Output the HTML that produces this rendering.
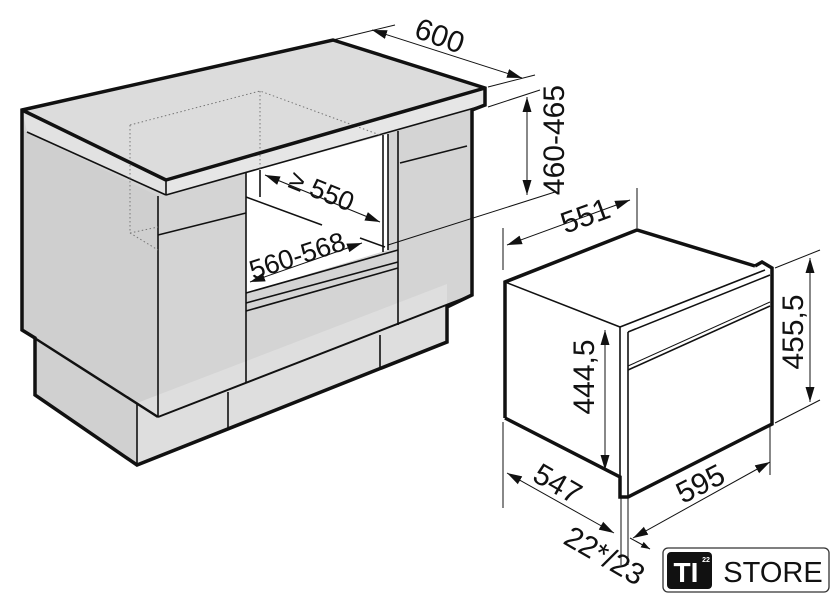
<!DOCTYPE html>
<html><head><meta charset="utf-8"><style>
html,body{margin:0;padding:0;background:#fff;width:840px;height:610px;overflow:hidden}
svg{display:block}
text{font-family:"Liberation Sans",Arial,sans-serif;fill:#111}
</style></head><body>
<svg width="840" height="610" viewBox="0 0 840 610" xmlns="http://www.w3.org/2000/svg">
<defs>
<marker id="a" viewBox="0 0 10 10" refX="10" refY="5" markerWidth="9" markerHeight="9" orient="auto-start-reverse" markerUnits="userSpaceOnUse"><path d="M0,1.5 L10,5 L0,8.5z" fill="#111"/></marker>
<marker id="b" viewBox="0 0 10 10" refX="10" refY="5" markerWidth="15" markerHeight="15" orient="auto-start-reverse" markerUnits="userSpaceOnUse"><path d="M0,2 L10,5 L0,8z" fill="#111"/></marker>
</defs>
<polygon points="22,110 333,40 485,88 485,105 472,110 472,295 447,307 447,342 137,465 35,395 35,338 22,330" fill="#d4d4d4"/>
<polygon points="22,110 333,40 485,88 166,180" fill="#dcdcdc"/>
<polygon points="22,110 166,180 166,195 27,132" fill="#e2e2e2"/>
<polygon points="166,180 485,88 485,105 166,195" fill="#e6e6e6"/>
<polygon points="22,130 158,196 158,417 22,330" fill="#cfcfcf"/>
<polygon points="35,338 137,403 137,465 35,395" fill="#d0d0d0"/>
<polygon points="137,403 447,284 447,342 137,465" fill="#dedede"/>
<polygon points="246,173 388,134 388,250 246,293" fill="#fff"/>
<g fill="none" stroke="#111" stroke-width="1.6">
<line x1="27" y1="132" x2="166" y2="195"/>
<line x1="166" y1="180" x2="166" y2="195"/>
<line x1="166" y1="195" x2="485" y2="105"/>
<line x1="158" y1="196" x2="158" y2="417"/>
<line x1="246" y1="173" x2="246" y2="383"/>
<line x1="398" y1="131" x2="398" y2="325"/>
<line x1="383" y1="135" x2="383" y2="252"/>
<line x1="388" y1="134" x2="388" y2="250"/>
<line x1="158" y1="235" x2="246" y2="213"/>
<line x1="400" y1="163" x2="467" y2="146"/>
<line x1="246" y1="293" x2="398" y2="250"/>
<line x1="246" y1="303" x2="398" y2="262"/>
<line x1="246" y1="311" x2="398" y2="268"/>
<line x1="260" y1="170" x2="260" y2="197"/>
<line x1="246" y1="197" x2="322" y2="225"/>
<line x1="360" y1="238" x2="385" y2="247"/>
<line x1="137" y1="403" x2="137" y2="465"/>
<line x1="228" y1="392" x2="228" y2="428"/>
<line x1="380" y1="335" x2="380" y2="367"/>
</g>
<g fill="none" stroke="#777" stroke-width="1" stroke-dasharray="1.5,2.5">
<polyline points="130,125 260,91 380,135"/>
<line x1="260" y1="91" x2="260" y2="170"/>
<line x1="130" y1="125" x2="130" y2="233"/>
<line x1="130" y1="233" x2="158" y2="227"/>
<line x1="130" y1="233" x2="158" y2="250"/>
</g>
<polygon points="22,110 333,40 485,88 485,105 472,110 472,295 447,307 447,342 137,465 35,395 35,338 22,330" fill="none" stroke="#111" stroke-width="3.5"/>
<line x1="22" y1="110" x2="166" y2="180" stroke="#111" stroke-width="3.5"/>
<line x1="166" y1="180" x2="485" y2="88" stroke="#111" stroke-width="3.5"/>
<line x1="22" y1="330" x2="158" y2="417" stroke="#111" stroke-width="2.5"/>
<line x1="158" y1="417" x2="472" y2="295" stroke="#111" stroke-width="2"/>
<g stroke="#111" stroke-width="1" fill="none">
<line x1="333" y1="40" x2="395" y2="25"/>
<line x1="488" y1="87" x2="535" y2="75"/>
<line x1="488" y1="107" x2="540" y2="90"/>
<line x1="388" y1="245" x2="555" y2="192"/>
<line x1="372" y1="30" x2="522" y2="78" marker-start="url(#b)" marker-end="url(#b)"/>
<line x1="527" y1="97" x2="527" y2="195" marker-start="url(#b)" marker-end="url(#b)"/>
<line x1="265" y1="175" x2="380" y2="222" marker-start="url(#b)" marker-end="url(#b)"/>
<line x1="250" y1="282" x2="362" y2="243" marker-start="url(#b)" marker-end="url(#b)"/>
</g>
<text x="440" y="46" font-size="30" text-anchor="middle" transform="rotate(20 440 35)">600</text>
<text x="553" y="151" font-size="30" text-anchor="middle" transform="rotate(-90 553 140)">460-465</text>
<text x="322" y="200" font-size="27" text-anchor="middle" transform="rotate(22 322 190)">≥ 550</text>
<text x="297" y="265" font-size="27" text-anchor="middle" transform="rotate(-18 297 255)">560-568</text>
<polygon points="505,282 637,230 760,268 770,270 770,424 628,497 620,497 620,477 505,418" fill="#fff"/>
<g stroke="#111" fill="none">
<polyline points="505,418 505,282 637,230 755,266" stroke-width="3.5"/>
<polyline points="755,266 762,262 772,268 772,424 628,497 620,497 620,477 505,418" stroke-width="3.5"/>
<line x1="505" y1="282" x2="620" y2="327" stroke-width="1.6"/>
<line x1="620" y1="327" x2="620" y2="477" stroke-width="1.6"/>
<line x1="620" y1="327" x2="765" y2="270" stroke-width="1.6"/>
<line x1="628" y1="332" x2="628" y2="497" stroke-width="1.6"/>
<line x1="628" y1="332" x2="770" y2="275" stroke-width="1.6"/>
<line x1="628" y1="370" x2="770" y2="306" stroke-width="1.6"/>
<line x1="628" y1="366" x2="770" y2="302" stroke-width="1"/>
</g>
<g stroke="#111" stroke-width="1" fill="none">
<line x1="503" y1="228" x2="503" y2="270"/>
<line x1="503" y1="422" x2="503" y2="508"/>
<line x1="637" y1="188" x2="637" y2="228"/>
<line x1="775" y1="268" x2="820" y2="250"/>
<line x1="775" y1="423" x2="820" y2="400"/>
<line x1="770" y1="424" x2="770" y2="475"/>
<line x1="621" y1="497" x2="621" y2="565"/>
<line x1="628" y1="497" x2="628" y2="565"/>
<line x1="507" y1="245" x2="630" y2="200" marker-start="url(#b)" marker-end="url(#b)"/>
<line x1="605" y1="330" x2="605" y2="470" marker-start="url(#b)" marker-end="url(#b)"/>
<line x1="810" y1="258" x2="810" y2="402" marker-start="url(#b)" marker-end="url(#b)"/>
<line x1="507" y1="473" x2="614" y2="533" marker-start="url(#b)" marker-end="url(#b)"/>
<line x1="633" y1="538" x2="770" y2="462" marker-start="url(#b)" marker-end="url(#b)"/>
<line x1="630" y1="538" x2="650" y2="549" marker-end="url(#a)"/>
</g>
<text x="585" y="226" font-size="30" text-anchor="middle" transform="rotate(-20 585 215)">551</text>
<text x="583" y="388" font-size="30" text-anchor="middle" transform="rotate(-90 583 377)">444,5</text>
<text x="792" y="343" font-size="30" text-anchor="middle" transform="rotate(-90 792 332)">455,5</text>
<text x="700" y="494" font-size="30" text-anchor="middle" transform="rotate(-27 700 483)">595</text>
<text x="558" y="494" font-size="30" text-anchor="middle" transform="rotate(30 558 483)">547</text>
<text x="605" y="566" font-size="30" text-anchor="middle" transform="rotate(30 605 555)">22*/23</text>
<rect x="663" y="548" width="166" height="44" rx="5" fill="#fff" stroke="#333" stroke-width="1.3"/>
<rect x="667" y="552" width="45" height="37" rx="4" fill="#111"/>
<text x="686" y="582" font-size="28" font-weight="bold" text-anchor="middle" style="fill:#fff">TI</text>
<text x="706" y="562" font-size="7" font-weight="bold" text-anchor="middle" style="fill:#fff">22</text>
<text x="773" y="582" font-size="29" text-anchor="middle">STORE</text>
</svg>
</body></html>
